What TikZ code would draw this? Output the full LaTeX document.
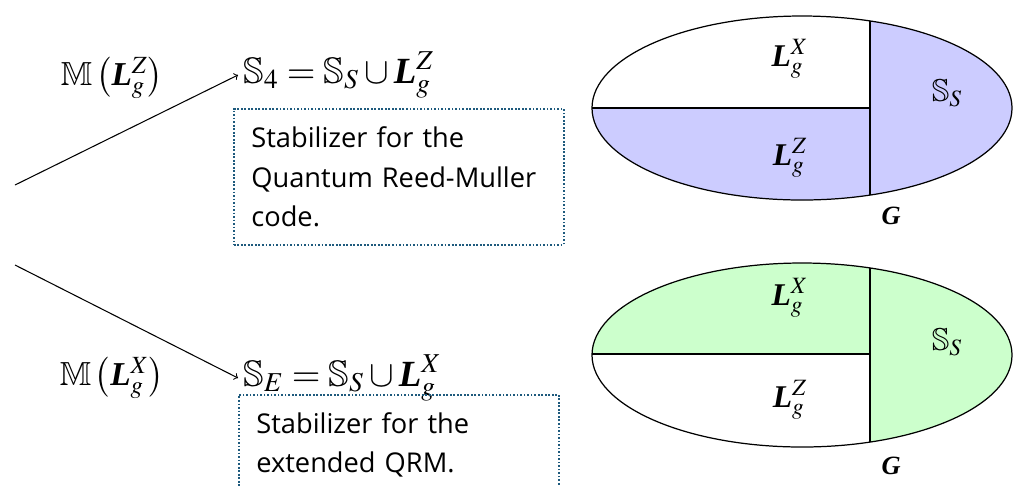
\documentclass[tikz,border=0pt]{standalone}
\usepackage{amsmath,amssymb}
\usepackage{mathptmx}
\usepackage[no-math]{fontspec}
\newfontfamily\boxfont{Open Sans}
\newfontfamily\timesfont{Liberation Serif}
\usetikzlibrary{arrows, positioning}
\definecolor{boxline}{RGB}{30,90,125}
\definecolor{stabblue}{RGB}{204,204,255}
\definecolor{stabgreen}{RGB}{204,255,204}
\newcommand{\bL}{\mbox{\timesfont\bfseries\itshape L}}
\newcommand{\bG}{\mbox{\timesfont\bfseries\itshape G}}
\tikzstyle{arrow} = [line width=0.6pt,->,>=to]
\tikzstyle{mathlabel} = [inner sep=0.3333em, font=\fontsize{19}{22}\selectfont]
\tikzstyle{stablabel} = [inner sep=0.3em, anchor=west, font=\fontsize{21}{24}\selectfont]
\tikzstyle{setlabel} = [inner sep=0pt, font=\fontsize{18}{21}\selectfont]
\tikzstyle{infobox} = [rectangle, draw=boxline, densely dotted, line width=1pt, align=left, inner xsep=0.35cm, font=\boxfont\fontsize{15.5}{22.5}\selectfont]
\tikzstyle{region} = [line width=0.7pt]

\begin{document}
\begin{tikzpicture}[x=0.02cm, y=-0.02cm]
\useasboundingbox (0,0) rectangle (1013,485);

% Measurement branches
\coordinate (src_top) at (15,185);
\coordinate (src_bot) at (15,265);
\node (meas_z) [mathlabel] at (112,78) {$\mathbb{M}\left(\bL_g^Z\right)$};
\node (meas_x) [mathlabel] at (112,378) {$\mathbb{M}\left(\bL_g^X\right)$};
\node (stab_4) [stablabel] at (238,75) {$\mathbb{S}_4=\mathbb{S}_S\cup \bL_g^Z$};
\node (stab_e) [stablabel] at (238,378) {$\mathbb{S}_E=\mathbb{S}_S\cup \bL_g^X$};

% Descriptions
\node (qrm_box) [infobox, anchor=north west, text width=5.9cm, minimum height=2.72cm] at (233,108) {Stabilizer for the\\Quantum Reed-Muller\\code.};
\node (ext_box) [infobox, anchor=north west, text width=5.7cm, minimum height=2.0cm] at (238,394) {Stabilizer for the\\extended QRM.};

% Connections
\draw [arrow] (src_top) -- (stab_4.west);
\draw [arrow] (src_bot) -- (stab_e.west);

% Upper set G
\begin{scope}
\clip (802,108) ellipse [x radius=210, y radius=92];
\fill [stabblue] (592,108) rectangle (870,210);
\fill [stabblue] (870,0) rectangle (1013,210);
\draw [region] (592,108) -- (870,108);
\draw [region] (870,0) -- (870,210);
\end{scope}
\draw [region] (802,108) ellipse [x radius=210, y radius=92];
\node (lx_top) [setlabel] at (790,59) {$\bL_g^X$};
\node (lz_top) [setlabel] at (790,158) {$\bL_g^Z$};
\node (ss_top) [setlabel] at (947,93) {$\mathbb{S}_S$};
\node (g_top) [setlabel, font=\fontsize{15}{18}\selectfont] at (891,216) {\bG};

% Lower set G
\begin{scope}
\clip (802,355) ellipse [x radius=210, y radius=92];
\fill [stabgreen] (592,250) rectangle (870,354);
\fill [stabgreen] (870,250) rectangle (1013,460);
\draw [region] (592,354) -- (870,354);
\draw [region] (870,250) -- (870,460);
\end{scope}
\draw [region] (802,355) ellipse [x radius=210, y radius=92];
\node (lx_bot) [setlabel] at (790,298) {$\bL_g^X$};
\node (lz_bot) [setlabel] at (790,400) {$\bL_g^Z$};
\node (ss_bot) [setlabel] at (947,342) {$\mathbb{S}_S$};
\node (g_bot) [setlabel, font=\fontsize{15}{18}\selectfont] at (891,466) {\bG};

\end{tikzpicture}
\end{document}
